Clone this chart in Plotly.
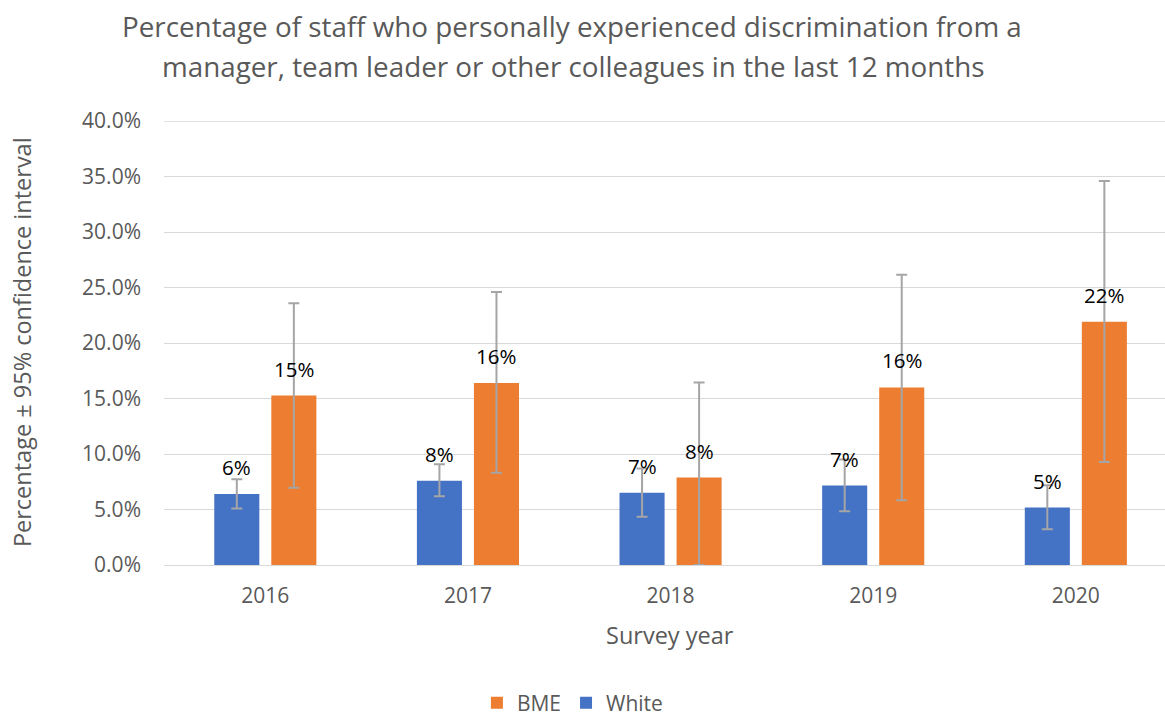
import plotly.graph_objects as go

years = ["2016", "2017", "2018", "2019", "2020"]
white_vals = [6.4, 7.6, 6.5, 7.16, 5.18]
white_hi = [7.73, 9.07, 8.7, 9.5, 7.19]
white_lo = [5.09, 6.2, 4.35, 4.85, 3.23]
bme_vals = [15.27, 16.4, 7.88, 16.0, 21.92]
bme_hi = [23.57, 24.6, 16.44, 26.15, 34.6]
bme_lo = [6.95, 8.3, 0.0, 5.84, 9.28]
white_labels = ["6%", "8%", "7%", "7%", "5%"]
bme_labels = ["15%", "16%", "8%", "16%", "22%"]
y_max = 40

title_lines = ["Percentage of staff who personally experienced discrimination from a",
               "manager, team leader or other colleagues in the last 12 months"]

FONT = "Open Sans"
GREY = "#595959"
ERR = "#A5A5A5"
GRID = "#D9D9D9"

def err(vals, hi, lo):
    return dict(type="data", symmetric=False,
                array=[h - v for h, v in zip(hi, vals)],
                arrayminus=[v - l for v, l in zip(vals, lo)],
                color=ERR, thickness=2, width=5.5)

fig = go.Figure()
fig.add_trace(go.Bar(name="White", x=years, y=white_vals, marker_color="#4472C4",
                     marker_line_width=0, error_y=err(white_vals, white_hi, white_lo),
                     legendrank=2))
fig.add_trace(go.Bar(name="BME", x=years, y=bme_vals, marker_color="#ED7D31",
                     marker_line_width=0, error_y=err(bme_vals, bme_hi, bme_lo),
                     legendrank=1))

ann = []
for i, y in enumerate(years):
    ann.append(dict(x=i, y=white_vals[i], text=white_labels[i], xref="x", yref="y",
                    showarrow=False, xshift=-28.5, yshift=11, yanchor="bottom",
                    font=dict(family=FONT, size=20.5, color="#000000")))
    ann.append(dict(x=i, y=bme_vals[i], text=bme_labels[i], xref="x", yref="y",
                    showarrow=False, xshift=28.5, yshift=11, yanchor="bottom",
                    font=dict(family=FONT, size=20.5, color="#000000")))

ann.append(dict(x=0.4076, y=1.2140, xref="paper", yref="paper", text=title_lines[0],
                showarrow=False, xanchor="center", yanchor="middle", borderpad=0,
                font=dict(family=FONT, size=27.8, color=GREY)))
ann.append(dict(x=0.4086, y=1.1239, xref="paper", yref="paper", text=title_lines[1],
                showarrow=False, xanchor="center", yanchor="middle", borderpad=0,
                font=dict(family=FONT, size=27.8, color=GREY)))
ann.append(dict(x=-0.1419, y=0.502, xref="paper", yref="paper",
                text="Percentage ± 95% confidence interval", textangle=-90,
                showarrow=False, xanchor="center", yanchor="middle", borderpad=0,
                font=dict(family=FONT, size=23.5, color=GREY)))
ann.append(dict(x=0.5055, y=-0.1577, xref="paper", yref="paper", text="Survey year",
                showarrow=False, xanchor="center", yanchor="middle",
                font=dict(family=FONT, size=23.5, color=GREY)))

fig.add_shape(type="line", xref="paper", yref="y", x0=0, x1=1, y0=y_max, y1=y_max,
              line=dict(color=GRID, width=1.3), layer="below")

fig.update_layout(
    width=1165, height=717,
    margin=dict(l=164, r=0, t=121, b=152, autoexpand=False),
    paper_bgcolor="white", plot_bgcolor="white",
    barmode="group", bargap=0.437, bargroupgap=0.21,
    font=dict(family=FONT, size=21, color=GREY),
    annotations=ann,
    showlegend=True,
    legend=dict(orientation="h", x=0.408, xanchor="center", y=-0.311, yanchor="middle",
                itemwidth=30, font=dict(family=FONT, size=21, color=GREY)),
    xaxis=dict(type="category", range=[-0.5, 4.44], showgrid=False,
               showline=True, linecolor=GRID, linewidth=1.3,
               ticklabelstandoff=12, tickfont=dict(family=FONT, size=21, color=GREY)),
    yaxis=dict(range=[0, y_max], dtick=5, tickformat=".1f", ticksuffix="%",
               showgrid=True, gridcolor=GRID, gridwidth=1.3, zeroline=False,
               ticklabelstandoff=22, tickfont=dict(family=FONT, size=21, color=GREY)),
)

fig.write_html("out.html", config={"displayModeBar": False},
               post_script="document.body.style.margin='0px';document.body.style.overflow='hidden';")
